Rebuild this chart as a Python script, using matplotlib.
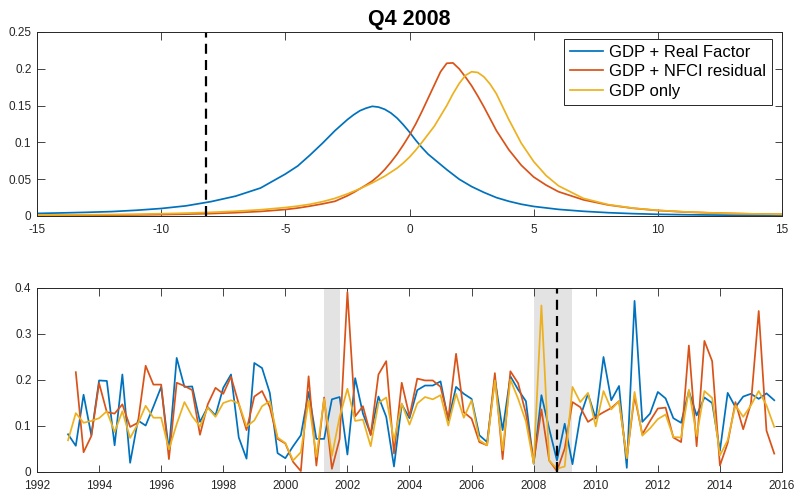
import matplotlib
matplotlib.use("Agg")
import matplotlib.pyplot as plt
import numpy as np
from matplotlib.ticker import FuncFormatter, MultipleLocator

plt.rcParams["font.family"] = ["Liberation Sans", "DejaVu Sans"]
plt.rcParams["axes.unicode_minus"] = False

AX_COLOR = "#262626"
colors = ["#0072BD", "#D95319", "#EDB120"]
labels = ["GDP + Real Factor", "GDP + NFCI residual", "GDP only"]

# predictive densities of GDP growth, Q4 2008
grid = [-15, -14, -13, -12, -11, -10, -9, -8, -7, -6, -5, -4.5, -4, -3.5, -3,
        -2.5, -2.25, -2, -1.75, -1.5, -1.25, -1, -0.75, -0.5, -0.25, 0, 0.25,
        0.5, 0.75, 1, 1.25, 1.5, 1.75, 2, 2.25, 2.5, 2.75, 3, 3.25, 3.5, 4,
        4.5, 5, 5.5, 6, 7, 8, 9, 10, 11, 12, 13, 14, 15]
dens_real = [0.0035, 0.0042, 0.0050, 0.0060, 0.0078, 0.0102, 0.0138, 0.0195,
             0.0270, 0.0380, 0.0570, 0.0680, 0.0830, 0.0990, 0.1160,
             0.1310, 0.1375, 0.1430, 0.1465, 0.1490, 0.1480, 0.1450, 0.1400,
             0.1330, 0.1240, 0.1140, 0.1030, 0.0930, 0.0840, 0.0770, 0.0700,
             0.0630, 0.0565, 0.0500, 0.0450, 0.0400, 0.0360, 0.0320, 0.0285,
             0.0250, 0.0200, 0.0160, 0.0130, 0.0110, 0.0090, 0.0064, 0.0045,
             0.0032, 0.0023, 0.0018, 0.0014, 0.0011, 0.0009, 0.0007]
dens_nfci = [0.0008, 0.0009, 0.0010, 0.0012, 0.0015, 0.0019, 0.0025, 0.0033,
             0.0045, 0.0062, 0.0088, 0.0108, 0.0135, 0.0165, 0.0200,
             0.0275, 0.0320, 0.0370, 0.0420, 0.0475, 0.0545, 0.0630, 0.0730,
             0.0840, 0.0965, 0.1100, 0.1250, 0.1420, 0.1600, 0.1780, 0.1960,
             0.2075, 0.2080, 0.2000, 0.1890, 0.1770, 0.1630, 0.1480, 0.1320,
             0.1160, 0.0900, 0.0690, 0.0530, 0.0420, 0.0330, 0.0220, 0.0150,
             0.0105, 0.0075, 0.0056, 0.0043, 0.0034, 0.0027, 0.0022]
dens_gdp = [0.0012, 0.0014, 0.0017, 0.0020, 0.0025, 0.0031, 0.0039, 0.0050,
            0.0065, 0.0085, 0.0115, 0.0135, 0.0160, 0.0195, 0.0240,
            0.0300, 0.0335, 0.0370, 0.0410, 0.0450, 0.0495, 0.0540, 0.0595,
            0.0650, 0.0720, 0.0800, 0.0895, 0.1000, 0.1110, 0.1220, 0.1360,
            0.1500, 0.1660, 0.1800, 0.1910, 0.1960, 0.1950, 0.1890, 0.1790,
            0.1660, 0.1310, 0.0990, 0.0740, 0.0550, 0.0410, 0.0240, 0.0155,
            0.0107, 0.0077, 0.0058, 0.0045, 0.0035, 0.0028, 0.0023]
realized_growth = -8.2

# quarterly series, first quarter given by the start values below
start_real, start_nfci, start_gdp = 1993.0, 1993.25, 1993.0
series_real = [
    0.082, 0.057, 0.168, 0.080,  0.199, 0.198, 0.058, 0.212,
    0.020, 0.112, 0.101, 0.142,  0.185, 0.047, 0.248, 0.185,
    0.186, 0.109, 0.141, 0.123,  0.183, 0.212, 0.075, 0.029,
    0.237, 0.226, 0.172, 0.041,  0.030, 0.056, 0.080, 0.174,
    0.072, 0.072, 0.158, 0.163,  0.038, 0.204, 0.127, 0.082,
    0.164, 0.120, 0.012, 0.147,  0.117, 0.178, 0.188, 0.188,
    0.197, 0.112, 0.185, 0.170,  0.159, 0.080, 0.065, 0.203,
    0.091, 0.208, 0.179, 0.154,  0.018, 0.167, 0.094, 0.025,
    0.105, 0.017, 0.120, 0.170,  0.116, 0.250, 0.156, 0.187,
    0.009, 0.372, 0.109, 0.127,  0.174, 0.160, 0.117, 0.107,
    0.176, 0.123, 0.162, 0.150,  0.046, 0.172, 0.141, 0.164,
    0.170, 0.159, 0.171, 0.156,
]
series_nfci = [
    0.217, 0.043, 0.078,  0.193, 0.130, 0.127, 0.147,
    0.098, 0.107, 0.231, 0.190,  0.190, 0.028, 0.194, 0.187,
    0.178, 0.081, 0.147, 0.183,  0.170, 0.207, 0.148, 0.091,
    0.164, 0.176, 0.141, 0.072,  0.062, 0.022, 0.002, 0.208,
    0.014, 0.162, 0.007, 0.072,  0.391, 0.121, 0.143, 0.080,
    0.212, 0.241, 0.040, 0.194,  0.121, 0.203, 0.199, 0.199,
    0.185, 0.116, 0.257, 0.130,  0.116, 0.065, 0.058, 0.215,
    0.028, 0.219, 0.193, 0.127,  0.022, 0.136, 0.025, 0.002,
    0.051, 0.152, 0.141, 0.109,  0.120, 0.130, 0.139, 0.154,
    0.031, 0.165, 0.082, 0.111,  0.138, 0.140, 0.075, 0.065,
    0.275, 0.056, 0.285, 0.241,  0.014, 0.063, 0.152, 0.093,
    0.149, 0.350, 0.090, 0.040,
]
series_gdp = [
    0.069, 0.128, 0.107, 0.111,  0.117, 0.132, 0.087, 0.132,
    0.074, 0.105, 0.144, 0.118,  0.118, 0.049, 0.104, 0.152,
    0.121, 0.099, 0.140, 0.120,  0.150, 0.156, 0.149, 0.099,
    0.112, 0.143, 0.154, 0.075,  0.063, 0.025, 0.043, 0.156,
    0.033, 0.159, 0.035, 0.120,  0.181, 0.111, 0.114, 0.056,
    0.150, 0.162, 0.069, 0.149,  0.103, 0.149, 0.163, 0.158,
    0.167, 0.101, 0.170, 0.118,  0.156, 0.069, 0.058, 0.199,
    0.047, 0.201, 0.159, 0.110,  0.018, 0.362, 0.025, 0.007,
    0.012, 0.185, 0.152, 0.172,  0.099, 0.176, 0.136, 0.154,
    0.030, 0.174, 0.079, 0.095,  0.115, 0.125, 0.076, 0.075,
    0.179, 0.078, 0.176, 0.161,  0.036, 0.069, 0.145, 0.120,
    0.145, 0.176, 0.145, 0.098,
]
recessions = [(2001.25, 2001.75), (2008.0, 2009.25)]
marked_quarter = 2008.75


def quarters(start, values):
    return start + 0.25 * np.arange(len(values))


def style_axes(ax):
    ax.tick_params(direction="in", length=5.4, width=0.6, colors=AX_COLOR,
                   labelsize=8.5, top=True, right=True)
    ax.tick_params(axis="x", pad=5.5)
    ax.tick_params(axis="y", pad=4)
    for s in ax.spines.values():
        s.set_color(AX_COLOR)
        s.set_linewidth(0.7)
    ax.yaxis.set_major_formatter(FuncFormatter(lambda v, p: "%g" % round(v, 3)))
    ax.xaxis.set_major_formatter(FuncFormatter(lambda v, p: "%g" % v))


fig = plt.figure(figsize=(7.96, 4.91), dpi=100)
ax1 = fig.add_axes([37 / 796, 1 - 216 / 491, 745 / 796, 184 / 491])
ax2 = fig.add_axes([37 / 796, 1 - 472 / 491, 745 / 796, 184 / 491])

# top: densities
for dens, c, lab in zip([dens_real, dens_nfci, dens_gdp], colors, labels):
    ax1.plot(grid, dens, color=c, lw=1.25, label=lab)
ax1.axvline(realized_growth, color="black", lw=1.6, dashes=(4.5, 2.8))
ax1.set_xlim(-15, 15)
ax1.set_ylim(0, 0.25)
ax1.xaxis.set_major_locator(MultipleLocator(5))
ax1.yaxis.set_major_locator(MultipleLocator(0.05))
style_axes(ax1)
ax1.set_title("Q4 2008", fontsize=15.5, fontweight="bold", pad=5)
leg = ax1.legend(loc="upper right", bbox_to_anchor=(0.9866, 0.962),
                 borderaxespad=0, fontsize=12, frameon=True, fancybox=False,
                 edgecolor=AX_COLOR, framealpha=1, handlelength=2.0,
                 handletextpad=0.35, labelspacing=0.27, borderpad=0.35)
leg.get_frame().set_linewidth(0.7)

# bottom: quarterly series with recession shading
for lo, hi in recessions:
    ax2.axvspan(lo, hi, color="#E3E3E3", lw=0, zorder=0)
ax2.plot(quarters(start_real, series_real), series_real, color=colors[0], lw=1.25)
ax2.plot(quarters(start_nfci, series_nfci), series_nfci, color=colors[1], lw=1.25)
ax2.plot(quarters(start_gdp, series_gdp), series_gdp, color=colors[2], lw=1.25)
ax2.axvline(marked_quarter, color="black", lw=1.6, dashes=(4.5, 2.8))
ax2.set_xlim(1992, 2016)
ax2.set_ylim(0, 0.4)
ax2.xaxis.set_major_locator(MultipleLocator(2))
ax2.yaxis.set_major_locator(MultipleLocator(0.1))
style_axes(ax2)

fig.savefig("out.png", dpi=100)
